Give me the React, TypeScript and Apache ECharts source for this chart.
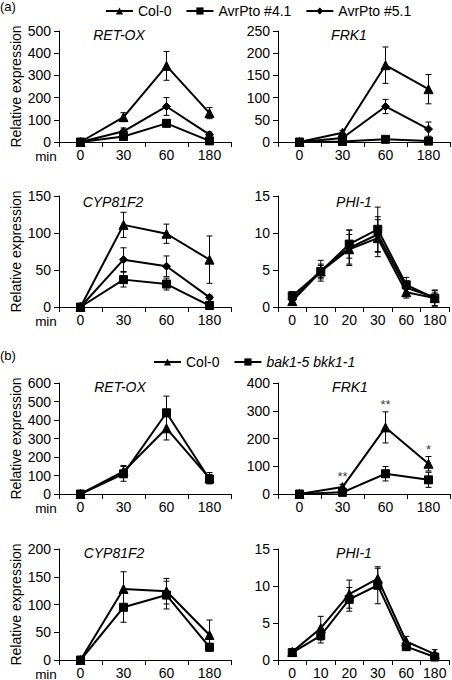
import { useEffect, useRef } from 'react';
import * as echarts from 'echarts';

const FONT = 'Liberation Sans, Arial, Helvetica, sans-serif';

// Categories (min)
const timeCats = ['0', '30', '60', '180'];
const phiCats = ['0', '10', '20', '30', '60', '180'];

// Legend names
const legendA = ['Col-0', 'AvrPto #4.1', 'AvrPto #5.1'];
const legendB = ['Col-0', 'bak1-5 bkk1-1'];

// (a) RET-OX
const aRetCol = [0, 112, 343, 130];
const aRetColErr = [0, 20, 65, 25];
const aRet41 = [0, 25, 84, 5];
const aRet41Err = [0, 10, 10, 5];
const aRet51 = [0, 48, 160, 33];
const aRet51Err = [0, 15, 40, 12];

// (a) FRK1
const aFrkCol = [0, 21, 173, 119];
const aFrkColErr = [0, 5, 41, 33];
const aFrk41 = [0, 1, 6, 2];
const aFrk41Err = [0, 1, 3, 1];
const aFrk51 = [0, 9, 80, 29];
const aFrk51Err = [0, 4, 16, 16];

// (a) CYP81F2
const aCypCol = [0, 111, 99, 64];
const aCypColErr = [0, 17, 13, 32];
const aCyp41 = [0, 37, 31, 2];
const aCyp41Err = [0, 10, 8, 1];
const aCyp51 = [0, 64, 55, 13];
const aCyp51Err = [0, 16, 14, 3];

// (a) PHI-1
const aPhiCol = [0.8, 4.8, 7.8, 9.3, 2.0, 1.2];
const aPhiColErr = [0.5, 0.8, 2.0, 2.5, 0.8, 1.0];
const aPhi41 = [1.5, 4.8, 8.5, 10.5, 3.0, 1.2];
const aPhi41Err = [0.6, 1.0, 1.9, 3.0, 1.0, 1.1];
const aPhi51 = [1.0, 4.9, 8.0, 9.8, 2.6, 1.3];
const aPhi51Err = [0.5, 1.4, 2.4, 2.4, 0.9, 0.6];

// (b) RET-OX
const bRetCol = [0, 122, 355, 86];
const bRetColErr = [0, 32, 63, 30];
const bRetBak = [0, 109, 439, 80];
const bRetBakErr = [0, 40, 90, 25];

// (b) FRK1
const bFrkCol = [0, 25, 240, 109];
const bFrkColErr = [0, 10, 56, 26];
const bFrkBak = [0, 6, 73, 51];
const bFrkBakErr = [0, 3, 26, 27];
const bFrkSig = ['', '**', '**', '*'];

// (b) CYP81F2
const bCypCol = [0, 128, 124, 45];
const bCypColErr = [0, 31, 23, 27];
const bCypBak = [0, 95, 117, 23];
const bCypBakErr = [0, 27, 25, 7];

// (b) PHI-1
const bPhiCol = [1.1, 4.3, 8.9, 11.0, 2.5, 0.8];
const bPhiColErr = [0.2, 1.6, 1.9, 1.4, 0.7, 0.6];
const bPhiBak = [1.0, 3.3, 8.2, 10.1, 1.8, 0.4];
const bPhiBakErr = [0.2, 1.0, 1.6, 2.5, 0.5, 0.3];

type Line = { name: string; sym: string; size: number; v: number[]; e: number[] };
type Panel = {
  left: number; top: number; width: number; height: number;
  cats: string[]; max: number; interval: number; gene: string;
  geneX: number; geneY: number; isLeft: boolean;
  lines: Line[]; sig?: { labels: string[]; base: number[]; err: number[] };
};

const col = (v: number[], e: number[]): Line => ({ name: 'Col-0', sym: 'triangle', size: 9, v, e });
const a41 = (v: number[], e: number[]): Line => ({ name: 'AvrPto #4.1', sym: 'rect', size: 8, v, e });
const a51 = (v: number[], e: number[]): Line => ({ name: 'AvrPto #5.1', sym: 'diamond', size: 8, v, e });
const bak = (v: number[], e: number[]): Line => ({ name: 'bak1-5 bkk1-1', sym: 'rect', size: 8, v, e });

const panels: Panel[] = [
  { left: 59, top: 31, width: 172, height: 111, cats: timeCats, max: 500, interval: 100, gene: 'RET-OX', geneX: 119, geneY: 35, isLeft: true,
    lines: [a41(aRet41, aRet41Err), a51(aRet51, aRet51Err), col(aRetCol, aRetColErr)] },
  { left: 278, top: 31, width: 172, height: 111, cats: timeCats, max: 250, interval: 50, gene: 'FRK1', geneX: 349, geneY: 35, isLeft: false,
    lines: [a41(aFrk41, aFrk41Err), a51(aFrk51, aFrk51Err), col(aFrkCol, aFrkColErr)] },
  { left: 59, top: 196, width: 172, height: 111, cats: timeCats, max: 150, interval: 50, gene: 'CYP81F2', geneX: 113, geneY: 202, isLeft: true,
    lines: [a41(aCyp41, aCyp41Err), a51(aCyp51, aCyp51Err), col(aCypCol, aCypColErr)] },
  { left: 278, top: 196, width: 171, height: 111, cats: phiCats, max: 15, interval: 5, gene: 'PHI-1', geneX: 354, geneY: 202, isLeft: false,
    lines: [col(aPhiCol, aPhiColErr), a51(aPhi51, aPhi51Err), a41(aPhi41, aPhi41Err)] },
  { left: 59, top: 383, width: 172, height: 111, cats: timeCats, max: 600, interval: 100, gene: 'RET-OX', geneX: 120, geneY: 387, isLeft: true,
    lines: [col(bRetCol, bRetColErr), bak(bRetBak, bRetBakErr)] },
  { left: 278, top: 383, width: 172, height: 111, cats: timeCats, max: 400, interval: 100, gene: 'FRK1', geneX: 350, geneY: 387, isLeft: false,
    lines: [col(bFrkCol, bFrkColErr), bak(bFrkBak, bFrkBakErr)],
    sig: { labels: bFrkSig, base: bFrkCol, err: bFrkColErr } },
  { left: 59, top: 549, width: 172, height: 111, cats: timeCats, max: 200, interval: 50, gene: 'CYP81F2', geneX: 114, geneY: 553, isLeft: true,
    lines: [col(bCypCol, bCypColErr), bak(bCypBak, bCypBakErr)] },
  { left: 278, top: 549, width: 171, height: 111, cats: phiCats, max: 15, interval: 5, gene: 'PHI-1', geneX: 354, geneY: 553, isLeft: false,
    lines: [col(bPhiCol, bPhiColErr), bak(bPhiBak, bPhiBakErr)] },
];

function errorRender(params: any, api: any) {
  const x = api.value(0);
  const lo = api.coord([x, api.value(1)]);
  const hi = api.coord([x, api.value(2)]);
  const w = 3;
  const style = { stroke: '#000', lineWidth: 1 };
  return {
    type: 'group',
    children: [
      { type: 'line', shape: { x1: lo[0], y1: lo[1], x2: hi[0], y2: hi[1] }, style },
      { type: 'line', shape: { x1: hi[0] - w, y1: hi[1], x2: hi[0] + w, y2: hi[1] }, style },
      { type: 'line', shape: { x1: lo[0] - w, y1: lo[1], x2: lo[0] + w, y2: lo[1] }, style },
    ],
  };
}

function buildOption() {
  const grid: any[] = [];
  const xAxis: any[] = [];
  const yAxis: any[] = [];
  const series: any[] = [];
  const graphic: any[] = [
    { type: 'text', left: 0, top: 0, style: { text: '(a)', font: `13px ${FONT}`, fill: '#000' } },
    { type: 'text', left: 0, top: 349, style: { text: '(b)', font: `13px ${FONT}`, fill: '#000' } },
  ];

  panels.forEach((p, i) => {
    grid.push({ left: p.left, top: p.top, width: p.width, height: p.height });
    xAxis.push({
      type: 'category', gridIndex: i, data: p.cats, boundaryGap: true,
      axisLine: { lineStyle: { color: '#000', width: 1 } },
      axisTick: { show: true, length: 5, interval: 0, lineStyle: { color: '#000' } },
      axisLabel: { color: '#000', fontSize: 14, fontFamily: FONT, margin: 6, interval: 0 },
      splitLine: { show: false },
    });
    yAxis.push({
      type: 'value', gridIndex: i, min: 0, max: p.max, interval: p.interval,
      name: p.isLeft ? 'Relative expression' : '',
      nameLocation: 'middle', nameRotate: 90, nameGap: 36,
      nameTextStyle: { color: '#000', fontSize: 14, fontFamily: FONT },
      axisLine: { show: true, lineStyle: { color: '#000', width: 1 } },
      axisTick: { show: true, length: 5, lineStyle: { color: '#000' } },
      axisLabel: { color: '#000', fontSize: 14, fontFamily: FONT, margin: 8 },
      splitLine: { show: false },
    });
    p.lines.forEach((l) => {
      series.push({
        type: 'custom', xAxisIndex: i, yAxisIndex: i, silent: true, z: 1,
        renderItem: errorRender,
        encode: { x: 0, y: [1, 2] },
        data: l.v.map((v, k) => [k, v - l.e[k], v + l.e[k]]),
      });
      series.push({
        type: 'line', name: l.name, xAxisIndex: i, yAxisIndex: i, z: 3,
        data: l.v, symbol: l.sym, symbolSize: l.size, showSymbol: true,
        lineStyle: { color: '#000', width: 2 },
        itemStyle: { color: '#000', borderColor: '#000' },
      });
    });
    if (p.sig) {
      const sig = p.sig;
      series.push({
        type: 'scatter', xAxisIndex: i, yAxisIndex: i, symbolSize: 0, silent: true,
        data: sig.labels.map((s, k) => ({ value: [k, sig.base[k] + sig.err[k]], label: { formatter: s } })).filter((d) => d.label.formatter !== ''),
        label: { show: true, position: 'top', distance: 1, color: '#000', fontSize: 13, fontFamily: FONT },
      });
    }
    graphic.push({
      type: 'text', x: p.geneX, y: p.geneY,
      style: { text: p.gene, font: `italic 14px ${FONT}`, fill: '#000', align: 'center', verticalAlign: 'middle' },
    });
    if (p.isLeft) {
      graphic.push({
        type: 'text', x: 46, y: p.top + p.height + 14,
        style: { text: 'min', font: `13.5px ${FONT}`, fill: '#000', align: 'center', verticalAlign: 'middle' },
      });
    }
  });

  const legendBase = {
    itemWidth: 27, itemHeight: 9, itemGap: 14,
    textStyle: { color: '#000', fontSize: 14, fontFamily: FONT, rich: { i: { fontStyle: 'italic', fontSize: 14, fontFamily: FONT, color: '#000' } } },
    formatter: (name: string) => (name === 'bak1-5 bkk1-1' ? `{i|${name}}` : name),
  };

  return {
    animation: false,
    backgroundColor: '#fff',
    legend: [
      { ...legendBase, data: legendA, left: 100, top: -1 },
      { ...legendBase, data: legendB, left: 148, top: 350 },
    ],
    grid, xAxis, yAxis, series, graphic,
  };
}

export default function App() {
  const ref = useRef<HTMLDivElement>(null);
  useEffect(() => {
    const chart = echarts.init(ref.current!, null, { renderer: 'svg' });
    chart.setOption(buildOption() as any);
    return () => chart.dispose();
  }, []);
  return <div ref={ref} style={{ position: 'absolute', left: 0, top: 0, width: 452, height: 680 }} />;
}
